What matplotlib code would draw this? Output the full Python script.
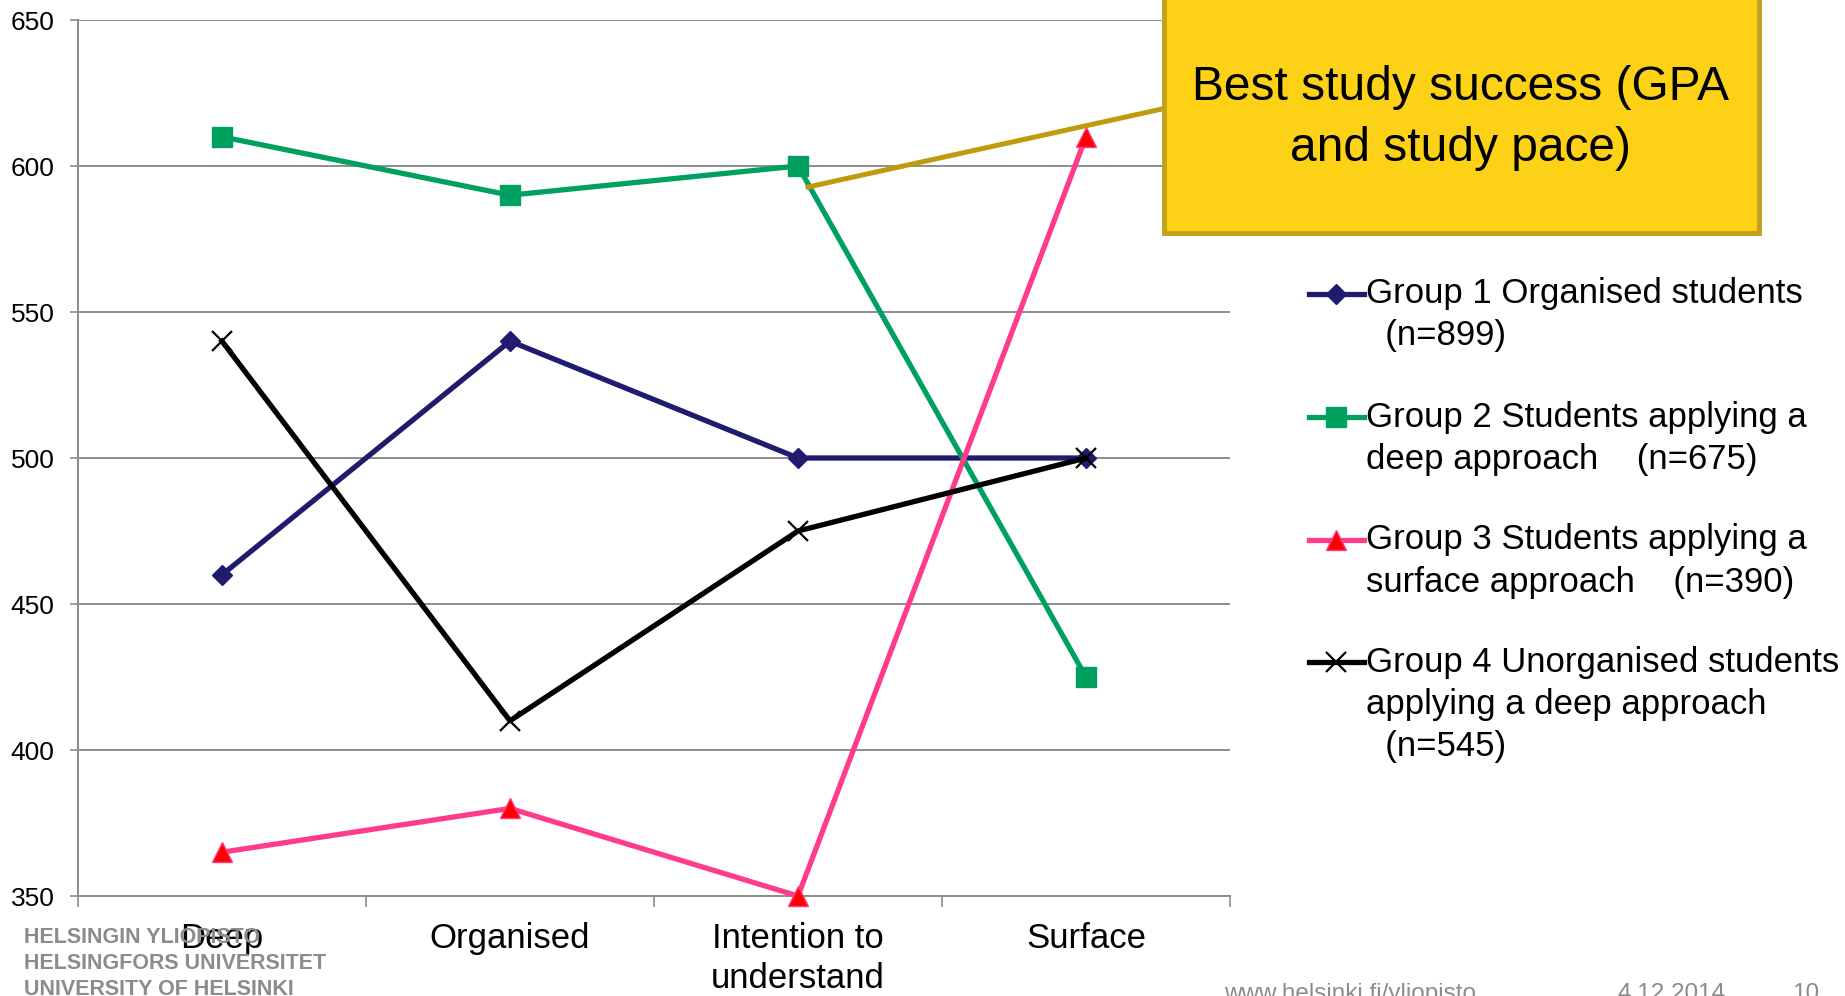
import matplotlib.pyplot as plt
from matplotlib import font_manager
from matplotlib.lines import Line2D
from matplotlib.patches import Rectangle

plt.rcParams['font.family'] = ['Liberation Sans', 'DejaVu Sans']

categories = ['Deep', 'Organised', 'Intention to\nunderstand', 'Surface']
group1 = [460, 540, 500, 500]
group2 = [610, 590, 600, 425]
group3 = [365, 380, 350, 610]
group4 = [540, 410, 475, 500]
y_ticks = [350, 400, 450, 500, 550, 600, 650]

legend_texts = [
    ['Group 1 Organised students', '  (n=899)'],
    ['Group 2 Students applying a', 'deep approach    (n=675)'],
    ['Group 3 Students applying a', 'surface approach    (n=390)'],
    ['Group 4 Unorganised students', 'applying a deep approach', '  (n=545)'],
]
box_text = 'Best study success (GPA\nand study pace)'
footer_left = ['HELSINGIN YLIOPISTO', 'HELSINGFORS UNIVERSITET', 'UNIVERSITY OF HELSINKI']
footer_right = ['www.helsinki.fi/yliopisto', '4.12.2014', '10']

W, H = 1845, 996
fig = plt.figure(figsize=(W / 100, H / 100), dpi=100)
ax = fig.add_axes([78 / W, 1 - 896 / H, 1152 / W, 876 / H])

styles = [
    dict(color='#1F1C6E', marker='D', markersize=10, markerfacecolor='#1F1C6E', markeredgecolor='#1F1C6E'),
    dict(color='#00A060', marker='s', markersize=14, markerfacecolor='#00A060', markeredgecolor='#00A060'),
    dict(color='#FF3C8C', marker='^', markersize=14, markerfacecolor='#FF0000', markeredgecolor='#FF3C8C'),
    dict(color='black', marker='x', markersize=14, markeredgewidth=1.6),
]
series = [group1, group2, group3, group4]
x = list(range(len(categories)))
for vals, st in zip(series, styles):
    ax.plot(x, vals, lw=3.8, zorder=3, clip_on=False, **st)

ax.set_xlim(-0.5, 3.5)
ax.set_ylim(350, 650)
ax.set_yticks(y_ticks)
ax.tick_params(axis='y', labelsize=19, length=6, width=1.2, color='#8C8C8C', pad=11)
ax.set_xticks([-0.5, 0.5, 1.5, 2.5, 3.5])
ax.set_xticklabels([])
ax.tick_params(axis='x', which='major', length=8, width=1.2, color='#8C8C8C', direction='out')
ax.set_xticks(x, minor=True)
ax.set_xticklabels(categories, minor=True, fontsize=25, linespacing=1.25)
ax.tick_params(axis='x', which='minor', length=0, pad=19)
ax.grid(axis='y', color='#8C8C8C', lw=1.4, zorder=0)
for s in ['top', 'right']:
    ax.spines[s].set_visible(False)
for s in ['left', 'bottom']:
    ax.spines[s].set_color('#8C8C8C')
    ax.spines[s].set_linewidth(1.4)

# callout box with connector
fig.add_artist(Line2D([808 / W, 1162 / W], [1 - 187 / H, 1 - 109 / H], color='#BF9B0E', lw=3.6,
                      transform=fig.transFigure, zorder=4))
fig.add_artist(Rectangle((1164 / W, 1 - 233 / H), 595 / W, 236 / H, transform=fig.transFigure,
                         facecolor='#FCD116', edgecolor='#C3A11A', lw=3.5, zorder=5))
fig.text((1164 + 297) / W, 1 - 118 / H, box_text, ha='center', va='center', fontsize=34.5,
         linespacing=1.45, zorder=6)

# legend
leg_y = [294, 417, 540, 662]
for texts, st, y0 in zip(legend_texts, styles, leg_y):
    fy = 1 - y0 / H
    fig.add_artist(Line2D([1309 / W, 1336 / W, 1364 / W], [fy, fy, fy], lw=3.8, markevery=[1],
                          transform=fig.transFigure, **st))
    for i, t in enumerate(texts):
        fig.text(1366 / W, 1 - (y0 + i * 42) / H, t, ha='left', va='center', fontsize=25)

# footer
names = {f.name for f in font_manager.fontManager.ttflist}
if 'Liberation Sans Narrow' in names:
    foot_font, foot_size = 'Liberation Sans Narrow', 18.5
else:
    foot_font, foot_size = 'Liberation Sans', 15.5
for i, t in enumerate(footer_left):
    fig.text(24 / W, 1 - (937 + i * 26) / H, t, ha='left', va='center', fontsize=foot_size,
             fontweight='bold', color='#8C8C8C', family=foot_font)
for t, xp in zip(footer_right, [1224, 1618, 1792]):
    fig.text(xp / W, 1 - 994 / H, t, ha='left', va='center', fontsize=17.5, color='#8C8C8C')

fig.savefig('out.png', dpi=100)
